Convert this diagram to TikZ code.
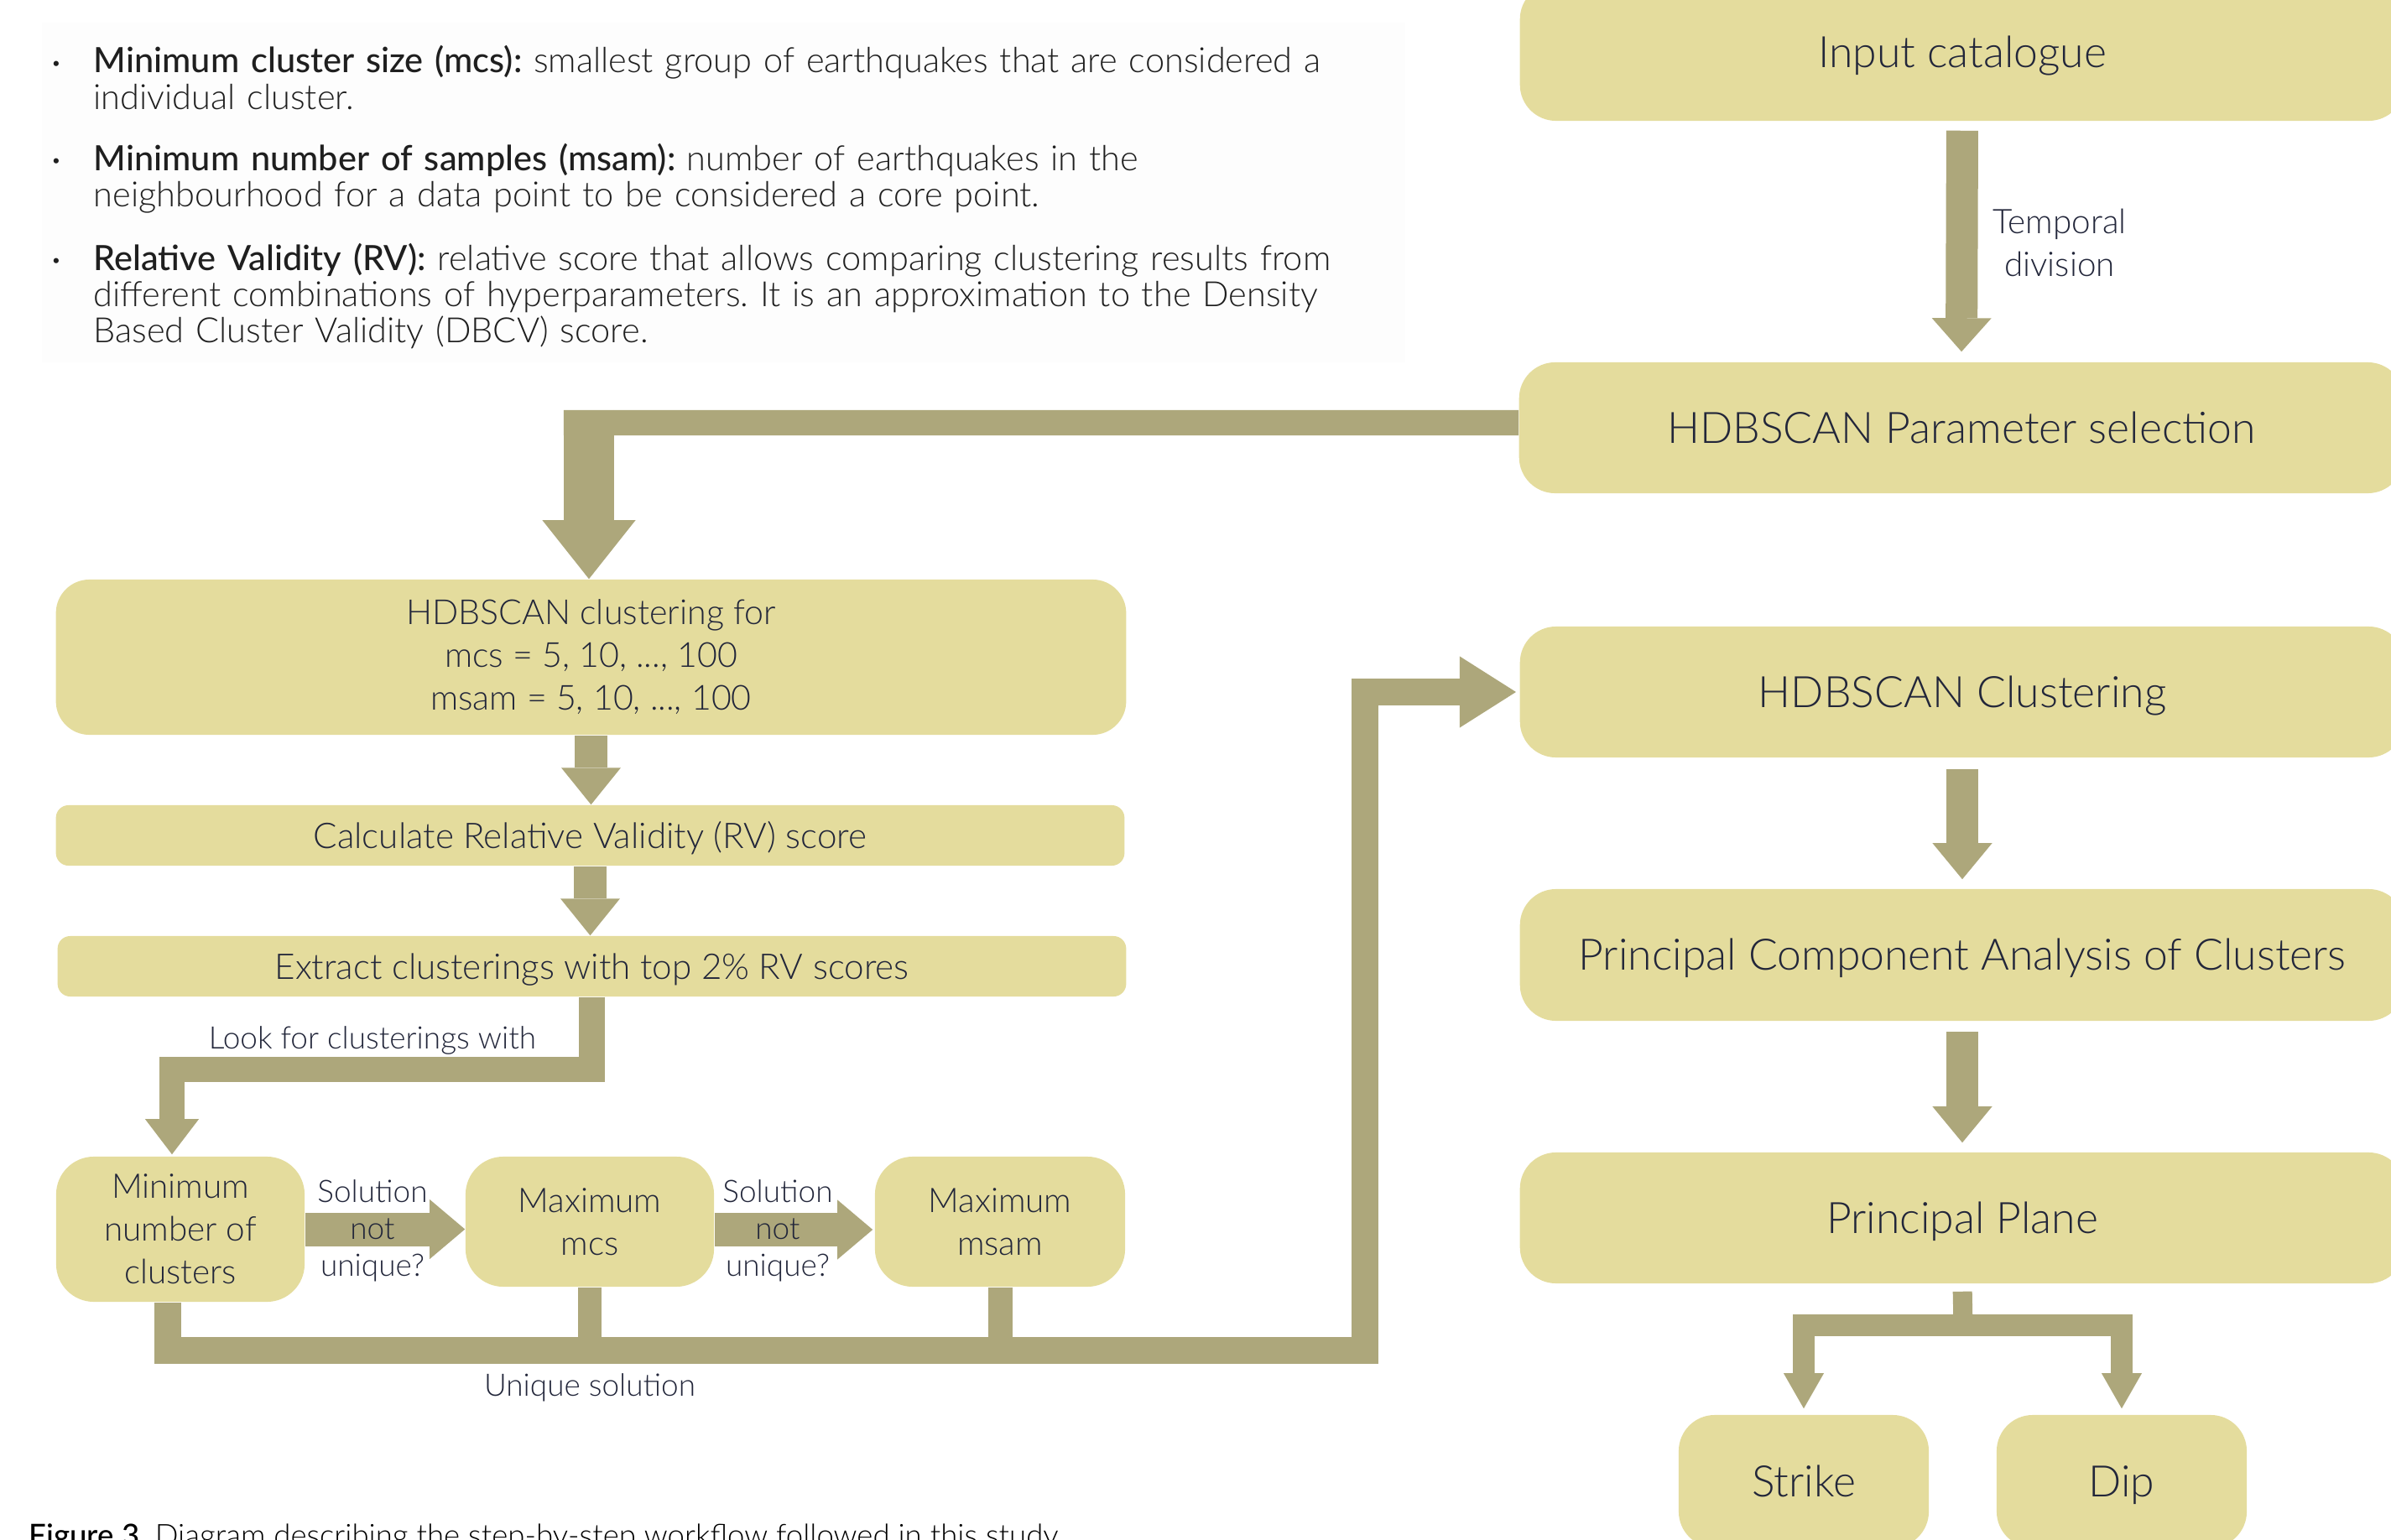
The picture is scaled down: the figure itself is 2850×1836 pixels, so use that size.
\documentclass[tikz,border=0pt]{standalone}
\usepackage{fontspec}
\setmainfont{Lato}[UprightFont=* Light, BoldFont=* Medium]
\usetikzlibrary{arrows.meta}
\definecolor{boxc}{HTML}{E4DC9D}
\definecolor{arrc}{HTML}{ADA77B}
\definecolor{txtc}{HTML}{22263A}
\definecolor{bgc}{HTML}{FDFDFD}
\newcommand\myrfont{\fontsize{14.7}{17.5}\selectfont}
\newcommand\mylfont{\fontsize{11.5}{14.5}\selectfont}
\newcommand\mylabfont{\fontsize{10.5}{12.5}\selectfont}
\newcommand\mybfont{\fontsize{11.8}{12.23}\selectfont}
\newcommand\mycapfont{\fontsize{10.4}{12}\selectfont}
\frenchspacing
\begin{document}
\begin{tikzpicture}[x=0.01cm,y=-0.01cm,
  rbox/.style={fill=boxc, rounded corners=4.3mm, minimum width=10.54cm, minimum height=1.56cm, inner sep=0pt, text=txtc, font=\myrfont, text height=10.5pt, text depth=0pt},
  sbox/.style={fill=boxc, rounded corners=4.3mm, minimum width=2.98cm, minimum height=1.58cm, inner sep=0pt, text=txtc, font=\myrfont, text height=10.5pt, text depth=0pt},
  lbox/.style={fill=boxc, inner sep=0pt, text=txtc, font=\mylfont, align=center},
  oneline/.style={font=\fontsize{12}{14.5}\selectfont, text height=8.6pt, text depth=0pt},
  lab/.style={text=txtc, font=\mylabfont, align=center, inner sep=0pt},
  btext/.style={text=black!88, font=\mybfont, align=left, inner sep=0pt, text width=17cm},
  flow/.style={draw=arrc, line join=miter, line cap=butt},
  tipM/.style={-{Triangle[width=7.1mm,length=4.3mm,line width=0pt]}},
]
\useasboundingbox (0,0) rectangle (2850,1836);
\clip (0,0) rectangle (2850,1836);

% faint panel behind the definitions
\fill[bgc] (50,27) rectangle (1675,432);

% definitions
\node[text=black!88, font=\fontsize{6}{7}\selectfont, inner sep=0pt, anchor=base] (d1) at (67,82) {•};
\node[btext, anchor=base west] (t1) at (111,87) {\textbf{Minimum cluster size (mcs):} smallest group of earthquakes that are considered a\\individual cluster.};
\node[text=black!88, font=\fontsize{6}{7}\selectfont, inner sep=0pt, anchor=base] (d2) at (67,198) {•};
\node[btext, anchor=base west] (t2) at (111,203) {\textbf{Minimum number of samples (msam):} number of earthquakes in the\\neighbourhood for a data point to be considered a core point.};
\node[text=black!88, font=\fontsize{6}{7}\selectfont, inner sep=0pt, anchor=base] (d3) at (67,317) {•};
\node[btext, anchor=base west] (t3) at (111,322) {\textbf{Relative Validity (RV):} relative score that allows comparing clustering results from\\different combinations of hyperparameters. It is an approximation to the Density\\Based Cluster Validity (DBCV) score.};

% right column
\node[rbox, minimum height=1.64cm] (input) at (2339,62) {Input catalogue};
\node[rbox] (param) at (2338,510) {HDBSCAN Parameter selection};
\node[rbox] (hclus) at (2339,825) {HDBSCAN Clustering};
\node[rbox, minimum height=1.57cm] (pca) at (2339,1138.5) {Principal Component Analysis of Clusters};
\node[rbox] (plane) at (2339,1452) {Principal Plane};
\node[sbox] (strike) at (2150,1766) {Strike};
\node[sbox] (dip) at (2529,1766) {Dip};

% left column
\node[lbox, font=\fontsize{11.7}{14.5}\selectfont, rounded corners=4mm, minimum width=12.75cm, minimum height=1.85cm] (hfor) at (704.5,783.5) {HDBSCAN clustering for\\mcs = 5, 10, ..., 100\\msam = 5, 10, ..., 100};
\node[lbox, oneline, rounded corners=1.5mm, minimum width=12.73cm, minimum height=0.72cm] (calc) at (703.5,996) {Calculate Relative Validity (RV) score};
\node[lbox, oneline, rounded corners=1.5mm, minimum width=12.73cm, minimum height=0.72cm] (extract) at (705.5,1152) {Extract clusterings with top 2\% RV scores};
\node[lbox, rounded corners=4.5mm, minimum width=2.96cm, minimum height=1.73cm] (minc) at (215,1465.5) {Minimum\\number of\\clusters};
\node[lbox, rounded corners=4.5mm, minimum width=2.96cm, minimum height=1.55cm] (maxmcs) at (703,1456.5) {Maximum\\mcs};
\node[lbox, rounded corners=4.5mm, minimum width=2.98cm, minimum height=1.55cm] (maxmsam) at (1192,1456.5) {Maximum\\msam};

% connector corners
\coordinate (c2) at (702,504);
\coordinate (c5) at (205,1274.5);
\coordinate (c8a) at (200,1609.5);
\coordinate (c8b) at (1627,1609.5);
\coordinate (c8c) at (1627,825);
\coordinate (sp) at (2340,1580);

% connectors
\draw[flow, line width=3.8mm, -{Triangle[width=7.1mm,length=4.0mm,line width=0pt]}, shorten <=1.1mm, shorten >=1.2mm] (input.south) -- (param.north);
\draw[flow, line width=3mm] ([yshift=0.6mm]param.west) -- ([xshift=-3mm]c2);
\draw[flow, line width=6mm, -{Triangle[width=11.1mm,length=7mm,line width=0pt]}] ([yshift=1.5mm]c2) -- (c2 |- hfor.north);
\draw[flow, line width=3.8mm, -{Triangle[width=7.1mm,length=4.4mm,line width=0pt]}] (hfor.south) -- (hfor.south |- calc.north);
\draw[flow, line width=3.8mm, -{Triangle[width=7.1mm,length=4.4mm,line width=0pt]}] (calc.south) -- (calc.south |- extract.north);
\draw[flow, line width=3mm, -{Triangle[width=6.4mm,length=4.2mm,line width=0pt]}, shorten >=0.2mm] (extract.south) |- (c5) -- (c5 |- minc.north);
\draw[flow, line width=4mm, -{Triangle[width=7.1mm,length=4.2mm,line width=0pt]}] (minc.east) -- (minc.east -| maxmcs.west);
\draw[flow, line width=4mm, -{Triangle[width=7.1mm,length=4.2mm,line width=0pt]}, shorten >=0.2mm] ([yshift=-0.95mm]maxmcs.east) -- ([yshift=-0.95mm]maxmsam.west);
\draw[flow, line width=2.8mm] (maxmcs.south) -- (maxmcs.south |- c8a);
\draw[flow, line width=2.9mm] (maxmsam.south) -- (maxmsam.south |- c8a);
\draw[flow, line width=3.2mm, -{Triangle[width=8.5mm,length=6.7mm,line width=0pt]}, shorten >=0.4mm] (minc.south -| c8a) -- (c8a) -- (c8b) -- (c8c) -- (hclus.west);
\draw[flow, line width=3.8mm, tipM, shorten <=1.3mm, shorten >=1.1mm] (hclus.south) -- (pca.north);
\draw[flow, line width=3.8mm, tipM, shorten <=1.2mm, shorten >=1.1mm] (pca.south) -- (plane.north);
\draw[flow, line width=2.3mm, shorten <=0.9mm] (plane.south) -- (sp);
\draw[flow, line width=2.6mm, -{Triangle[width=4.8mm,length=4.2mm,line width=0pt]}, shorten >=0.7mm] (sp) -| (strike.north);
\draw[flow, line width=2.6mm, -{Triangle[width=4.8mm,length=4.2mm,line width=0pt]}, shorten >=0.7mm] (sp) -| (dip.north);

% connector labels
\node[lab, font=\mylfont] (ltemp) at (2455,289) {Temporal\\division};
\node[lab, anchor=base] (llook) at (444,1250) {Look for clusterings with};
\node[lab] (lsol1) at (444,1467) {Solution\\not\\unique?};
\node[lab] (lsol2) at (927,1467) {Solution\\not\\unique?};
\node[lab, anchor=base] (luniq) at (703,1664) {Unique solution};

% caption (cut by the lower edge)
\node[anchor=base west, font=\mycapfont, inner sep=0pt, text=black] (cap) at (34,1843) {\textbf{Figure 3.} Diagram describing the step-by-step workflow followed in this study.};
\end{tikzpicture}
\end{document}
